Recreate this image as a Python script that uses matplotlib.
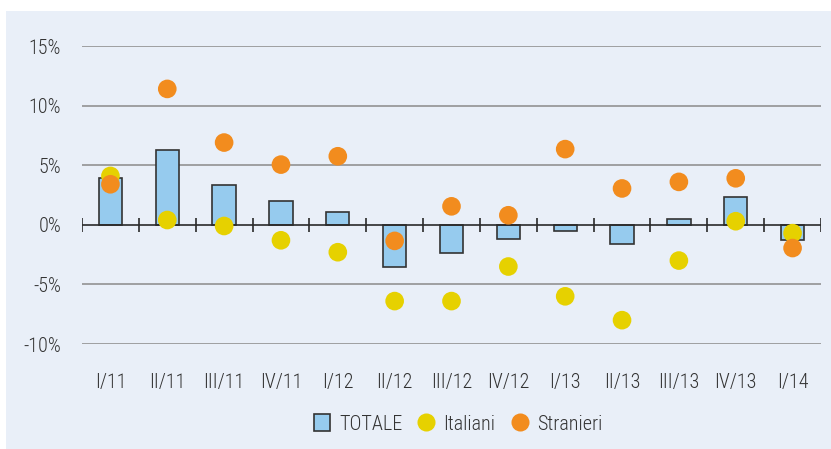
import matplotlib
matplotlib.use("Agg")
import matplotlib.pyplot as plt
from matplotlib.patches import Rectangle
from matplotlib.lines import Line2D
import numpy as np
from matplotlib import font_manager

categories = ["I/11", "II/11", "III/11", "IV/11", "I/12", "II/12", "III/12",
              "IV/12", "I/13", "II/13", "III/13", "IV/13", "I/14"]
totale = [3.9, 6.3, 3.3, 2.0, 1.1, -3.5, -2.4, -1.15, -0.5, -1.6, 0.45, 2.35, -1.3]
italiani = [4.1, 0.4, -0.1, -1.3, -2.3, -6.4, -6.4, -3.5, -6.0, -8.0, -3.0, 0.3, -0.7]
stranieri = [3.4, 11.4, 6.9, 5.05, 5.75, -1.35, 1.55, 0.8, 6.35, 3.05, 3.6, 3.9, -1.95]
yticks = [-10, -5, 0, 5, 10, 15]
ytick_labels = ["-10%", "-5%", "0%", "5%", "10%", "15%"]

available = {f.name for f in font_manager.fontManager.ttflist}
fam = [f for f in ["Liberation Sans Narrow", "Roboto Condensed", "Liberation Sans"] if f in available] + ["DejaVu Sans"]
plt.rcParams['font.family'] = fam
plt.rcParams['font.weight'] = 'light'

W, H = 831, 449
fig = plt.figure(figsize=(W / 100, H / 100), dpi=100, facecolor="white")
bg_color = "#E9EFF8"
fig.patches.append(Rectangle((6 / W, 0), 1 - 6 / W, 1 - 11 / H, transform=fig.transFigure,
                             facecolor=bg_color, edgecolor="none", zorder=0))

ax = fig.add_axes([82 / W, 1 - 344 / H, (821 - 82) / W, (344 - 46) / H])
ax.set_zorder(2)
ax.set_facecolor("none")
x = np.arange(len(categories))
ax.set_xlim(-0.5, len(categories) - 0.5)
ax.set_ylim(-10, 15)

for yv in [-10, -5, 5, 10, 15]:
    ax.axhline(yv, color="#8a8a8a", lw=1.1, zorder=1)

ax.bar(x, totale, width=0.41, color="#96CBEE", edgecolor="#333333", linewidth=1.2, zorder=2)

# zero axis with tick marks at category boundaries
ax.axhline(0, color="#2a2a2a", lw=1.2, zorder=3)
for b in np.arange(-0.5, len(categories), 1.0):
    ax.plot([b, b], [-0.6, 0.6], color="#2a2a2a", lw=1.2, zorder=3, solid_capstyle="butt")

ax.scatter(x, italiani, s=180, color="#E6D100", edgecolors="none", zorder=4)
ax.scatter(x, stranieri, s=180, color="#F28C1E", edgecolors="none", zorder=5)

fs = 14.5
for s in ax.spines.values():
    s.set_visible(False)
ax.set_yticks(yticks)
ax.set_yticklabels(ytick_labels, fontsize=fs, color="#333333")
ax.set_xticks(x)
ax.set_xticklabels(categories, fontsize=fs, color="#333333")
ax.tick_params(axis="both", length=0)
ax.tick_params(axis="y", pad=15)
ax.tick_params(axis="x", pad=21)

handles = [
    Rectangle((0, 0), 1, 1, facecolor="#96CBEE", edgecolor="#333333", linewidth=1.2),
    Line2D([], [], marker="o", linestyle="none", markersize=13, markerfacecolor="#E6D100", markeredgecolor="none"),
    Line2D([], [], marker="o", linestyle="none", markersize=13, markerfacecolor="#F28C1E", markeredgecolor="none"),
]
leg = fig.legend(handles, ["TOTALE", "Italiani", "Stranieri"], loc="center",
                 bbox_to_anchor=(458 / W, 1 - 424 / H), ncol=3, frameon=False,
                 fontsize=fs, handlelength=0.8, handletextpad=0.45, columnspacing=0.8,
                 handleheight=0.9)
leg.set_zorder(3)
for t in leg.get_texts():
    t.set_color("#333333")

fig.savefig("out.png", dpi=100, facecolor="white")
